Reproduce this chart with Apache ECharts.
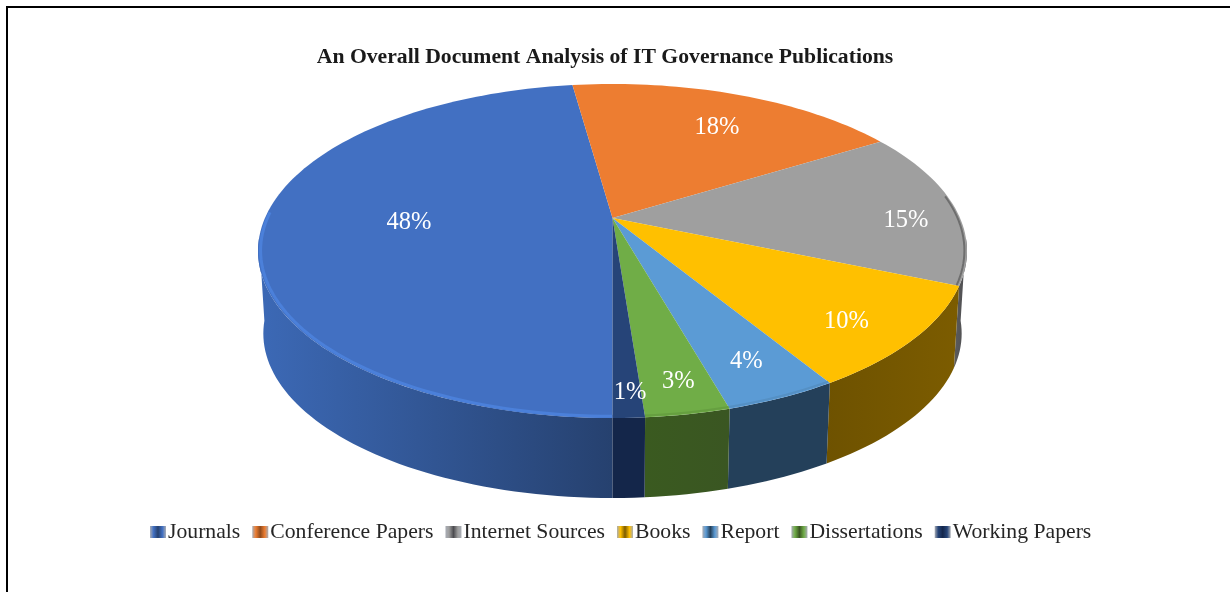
<!DOCTYPE html>
<html>
<head>
<meta charset="utf-8">
<style>html,body{margin:0;padding:0;background:#fff}#c{width:1230px;height:592px}</style>
<script src="https://cdn.jsdelivr.net/npm/echarts@6/dist/echarts.min.js"></script>
</head>
<body>
<div id="c"></div>
<script>
// Data
const categories = ['Journals','Conference Papers','Internet Sources','Books','Report','Dissertations','Working Papers'];
const shares = [47.8,18.4,15.2,9.9,4.3,3.2,1.2];
const chartTitle = 'An Overall Document Analysis of IT Governance Publications';

// Styles
const topColors  = ['#4270c2','#ed7d31','#9f9f9f','#ffc000','#5b9bd5','#70ad47','#264478'];
const sideLeft   = ['#3c69b6','#8f4a1c','#5c5c5c','#6e5200','#24405a','#3a5a20','#14264a'];
const sideRight  = ['#26416f','#8f4a1c','#4c4c50','#7c5c00','#24405a','#3a5622','#14264a'];
const rimColors  = ['#4b80da',null,'#6e6e6e',null,'#5590c4','#669f40',null];
const labelRadius = [0.585,0.73,0.846,0.82,0.82,0.85,0.86];
const labelNudge = [[1,-2],[9,3],[4,13],[-7,7],[0,2],[4,3],[4,8]];

// Perspective view of the disc
const view = {cx:612.5, topY:218, depth:83, a:347.5, b:160.5, k:0.1976, bottomScale:0.985, startDeg:180};
const total = shares.reduce((s,v)=>s+v,0);
function spanOf(i){
  let before = 0;
  for(let j=0;j<i;j++) before += shares[j];
  const p = 360/total;
  return [view.startDeg+before*p, view.startDeg+(before+shares[i])*p];
}
function project(deg,r,level){
  const t = deg*Math.PI/180, X = r*Math.sin(t), Y = -r*Math.cos(t), w = 1-view.k*Y;
  const s = level ? view.bottomScale : 1;
  return [view.cx + s*view.a*X/w, view.topY + (level?view.depth:0) + s*view.b*Y/w];
}
function arc(from,to,r,level){
  const n = Math.max(2,Math.ceil(Math.abs(to-from)/1.5)), out=[];
  for(let i=0;i<=n;i++) out.push(project(from+(to-from)*i/n,r,level));
  return out;
}
function clipRange(span,lo,hi){
  // spans run from 180 upward, the rest are compared a turn on
  const res=[];
  [0,360].forEach(o=>{
    const a=Math.max(span[0],lo+o), b=Math.min(span[1],hi+o);
    if(b>a) res.push([a,b]);
  });
  return res;
}
function renderSlice(i){
  const span = spanOf(i), kids=[];
  clipRange(span,97,263).forEach(rg=>{
    const top = arc(rg[0],rg[1],1,0), bot = arc(rg[1],rg[0],1,1);
    kids.push({type:'polygon',shape:{points:top.concat(bot)},
      style:{fill:new echarts.graphic.LinearGradient(0,0,1,0,[{offset:0,color:sideLeft[i]},{offset:1,color:sideRight[i]}])}});
  });
  kids.push({type:'polygon',shape:{points:[[view.cx,view.topY]].concat(arc(span[0],span[1],1,0))},style:{fill:topColors[i]}});
  if(rimColors[i]){
    clipRange(span,82,272).forEach(rg=>{
      kids.push({type:'polyline',shape:{points:arc(rg[0],rg[1],0.993,0)},
        style:{fill:'none',stroke:rimColors[i],lineWidth:i===0?3:2}});
    });
  }
  return {type:'group',children:kids};
}
function renderLabel(params){
  const i = params.dataIndex, s = spanOf(i), p = project((s[0]+s[1])/2,labelRadius[i],0);
  return {type:'text',x:p[0]+labelNudge[i][0],y:p[1]+labelNudge[i][1],style:{text:Math.round(shares[i])+'%',fill:'#fff',
    font:'24.5px "Liberation Serif"',align:'center',verticalAlign:'middle'}};
}
const legendData = categories.map((c,i)=>({name:c,itemStyle:{
  color:new echarts.graphic.LinearGradient(0,0,1,0,[
    {offset:0,color:'#a9adb5'},{offset:0.22,color:topColors[i]},{offset:0.5,color:sideRight[i]},
    {offset:0.78,color:topColors[i]},{offset:1,color:'#a9adb5'}])}}));

const series = categories.map((c,i)=>({
  name:c,type:'custom',coordinateSystem:'none',silent:true,z:2,
  itemStyle:{color:topColors[i]},
  data:[[shares[i]]],
  renderItem:()=>renderSlice(i)
}));
series.push({name:'labels',type:'custom',coordinateSystem:'none',silent:true,z:5,
  data:shares.map(v=>[v]),renderItem:renderLabel});

const chart = echarts.init(document.getElementById('c'),null,{renderer:'canvas'});
chart.setOption({
  animation:false,
  backgroundColor:'#fff',
  title:{text:chartTitle,left:600,top:41,textAlign:'center',
    textStyle:{fontFamily:'Liberation Serif',fontWeight:'bold',fontSize:21.7,color:'#1a1a1a'}},
  legend:{data:legendData,left:150,top:521,padding:0,icon:'rect',itemWidth:16,itemHeight:12,itemGap:12,selectedMode:false,
    textStyle:{fontFamily:'Liberation Serif',fontSize:21.7,color:'#262626',padding:[0,0,0,-3]}},
  graphic:[
    {type:'line',shape:{x1:7,y1:7,x2:1230,y2:7},style:{stroke:'#000',lineWidth:2}},
    {type:'line',shape:{x1:7,y1:6,x2:7,y2:592},style:{stroke:'#000',lineWidth:2}}
  ],
  series:series
});
</script>
</body>
</html>
